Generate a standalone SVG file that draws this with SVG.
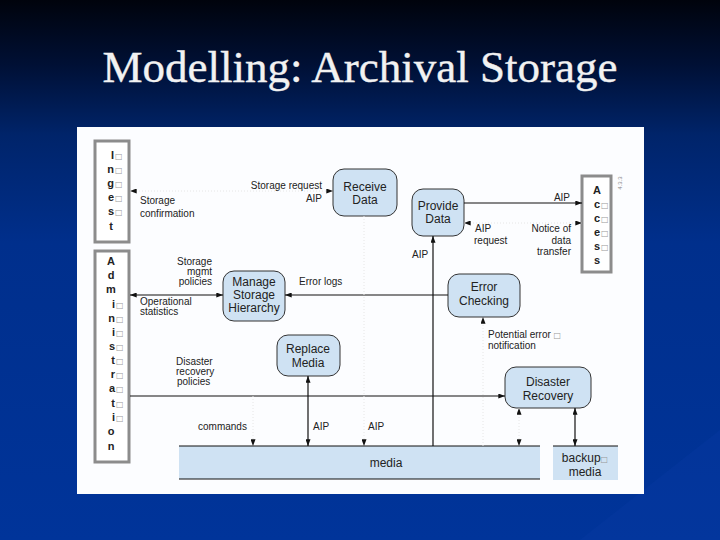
<svg xmlns="http://www.w3.org/2000/svg" width="720" height="540" viewBox="0 0 720 540">
<defs>
<linearGradient id="bg" x1="0" y1="0" x2="0" y2="1">
<stop offset="0" stop-color="#00030c"/>
<stop offset="0.12" stop-color="#001035"/>
<stop offset="0.25" stop-color="#00246a"/>
<stop offset="0.45" stop-color="#002f8c"/>
<stop offset="1" stop-color="#00349a"/>
</linearGradient>
<marker id="ah" viewBox="0 0 8 6" refX="8" refY="3" markerWidth="7" markerHeight="5" markerUnits="userSpaceOnUse" orient="auto-start-reverse">
<path d="M0,0 L8,3 L0,6 Z" fill="#111"/>
</marker>
<style>
.node{fill:#cfe2f3;stroke:#333;stroke-width:1}
.ext{fill:#fff;stroke:#8c8c8c;stroke-width:3}
.nt{font-family:"Liberation Sans",Arial,sans-serif;font-size:12px;fill:#222;text-anchor:middle}
.lt{font-family:"Liberation Sans",Arial,sans-serif;font-size:10px;fill:#222}
.le{text-anchor:end}
.bl{font-family:"Liberation Sans",Arial,sans-serif;font-size:11px;font-weight:bold;fill:#222}
.bx{font-family:"DejaVu Sans",sans-serif;font-size:8px;fill:#999}
.ln{stroke:#111;stroke-width:1.2;fill:none}
.fl{stroke:#e6e6e6;stroke-width:1;fill:none;stroke-dasharray:1 2}
</style>
</defs>
<rect width="720" height="540" fill="url(#bg)"/>
<polygon points="580,540 720,430 720,540" fill="#0a3ca6" opacity="0.3"/>
<text x="360" y="82" text-anchor="middle" font-family="'Liberation Serif','Times New Roman',serif" font-size="45" fill="#f2f2f2" stroke="#f2f2f2" stroke-width="0.4">Modelling: Archival Storage</text>
<rect x="77" y="127" width="567" height="367" fill="#fcfdff"/>

<g id="ingest">
<rect class="ext" x="95" y="141" width="34" height="101"/>
<text class="bl" x="114" y="159" text-anchor="end">I</text><text class="bx" x="115" y="159">□</text>
<text class="bl" x="114" y="173" text-anchor="end">n</text><text class="bx" x="115" y="173">□</text>
<text class="bl" x="114" y="187" text-anchor="end">g</text><text class="bx" x="115" y="187">□</text>
<text class="bl" x="114" y="201" text-anchor="end">e</text><text class="bx" x="115" y="201">□</text>
<text class="bl" x="114" y="215" text-anchor="end">s</text><text class="bx" x="115" y="215">□</text>
<text class="bl" x="111" y="230" text-anchor="middle">t</text>
</g>

<g id="administration">
<rect class="ext" x="95" y="251" width="34" height="211"/>
<text class="bl" x="111" y="265" text-anchor="middle">A</text>
<text class="bl" x="111" y="279" text-anchor="middle">d</text>
<text class="bl" x="111" y="293" text-anchor="middle">m</text>
<text class="bl" x="115" y="308" text-anchor="end">i</text><text class="bx" x="116" y="308">□</text>
<text class="bl" x="115" y="322" text-anchor="end">n</text><text class="bx" x="116" y="322">□</text>
<text class="bl" x="115" y="336" text-anchor="end">i</text><text class="bx" x="116" y="336">□</text>
<text class="bl" x="115" y="350" text-anchor="end">s</text><text class="bx" x="116" y="350">□</text>
<text class="bl" x="115" y="364" text-anchor="end">t</text><text class="bx" x="116" y="364">□</text>
<text class="bl" x="115" y="378" text-anchor="end">r</text><text class="bx" x="116" y="378">□</text>
<text class="bl" x="115" y="392" text-anchor="end">a</text><text class="bx" x="116" y="392">□</text>
<text class="bl" x="115" y="407" text-anchor="end">t</text><text class="bx" x="116" y="407">□</text>
<text class="bl" x="115" y="421" text-anchor="end">i</text><text class="bx" x="116" y="421">□</text>
<text class="bl" x="111" y="435" text-anchor="middle">o</text>
<text class="bl" x="111" y="450" text-anchor="middle">n</text>
</g>

<g id="access">
<rect class="ext" x="582" y="176" width="29" height="96"/>
<text class="bl" x="597" y="194" text-anchor="middle">A</text>
<text class="bl" x="600" y="208" text-anchor="end">c</text><text class="bx" x="601" y="208">□</text>
<text class="bl" x="600" y="222" text-anchor="end">c</text><text class="bx" x="601" y="222">□</text>
<text class="bl" x="600" y="236" text-anchor="end">e</text><text class="bx" x="601" y="236">□</text>
<text class="bl" x="600" y="250" text-anchor="end">s</text><text class="bx" x="601" y="250">□</text>
<text class="bl" x="597" y="264" text-anchor="middle">s</text>
<text x="622" y="183" transform="rotate(-90 622 183)" text-anchor="middle" font-family="'Liberation Sans',sans-serif" font-size="6" fill="#888">4.3.3</text>
</g>

<g id="receive-data">
<rect class="node" x="333" y="169" width="64" height="47" rx="11"/>
<text class="nt" x="365" y="191">Receive</text>
<text class="nt" x="365" y="204">Data</text>
</g>
<g id="provide-data">
<rect class="node" x="412" y="189" width="52" height="47" rx="11"/>
<text class="nt" x="438" y="210">Provide</text>
<text class="nt" x="438" y="223">Data</text>
</g>
<g id="manage-storage-hierarchy">
<rect class="node" x="223" y="271" width="62" height="50" rx="11"/>
<text class="nt" x="254" y="286">Manage</text>
<text class="nt" x="254" y="299">Storage</text>
<text class="nt" x="254" y="312">Hierarchy</text>
</g>
<g id="error-checking">
<rect class="node" x="448" y="274" width="72" height="43" rx="11"/>
<text class="nt" x="484" y="291">Error</text>
<text class="nt" x="484" y="305">Checking</text>
</g>
<g id="replace-media">
<rect class="node" x="277" y="335" width="63" height="41" rx="11"/>
<text class="nt" x="308" y="353">Replace</text>
<text class="nt" x="308" y="367">Media</text>
</g>
<g id="disaster-recovery">
<rect class="node" x="505" y="367" width="86" height="41" rx="11"/>
<text class="nt" x="548" y="386">Disaster</text>
<text class="nt" x="548" y="400">Recovery</text>
</g>
<g id="media">
<rect x="179" y="446" width="361" height="33" fill="#cfe2f3"/>
<line x1="179" y1="446" x2="540" y2="446" stroke="#111" stroke-width="1.2"/>
<line x1="179" y1="479" x2="540" y2="479" stroke="#111" stroke-width="1.2"/>
<text class="nt" x="386" y="467">media</text>
</g>
<g id="backup-media">
<rect x="553" y="446" width="65" height="34" fill="#cfe2f3"/>
<line x1="553" y1="446" x2="618" y2="446" stroke="#111" stroke-width="1.2"/>
<text class="nt" x="585" y="462">backup<tspan class="bx">□</tspan></text>
<text class="nt" x="585" y="476">media</text>
</g>

<g id="connectors">
<line class="fl" x1="130" y1="191" x2="333" y2="191" marker-start="url(#ah)" marker-end="url(#ah)"/>
<line class="ln" x1="130" y1="295" x2="223" y2="295" marker-start="url(#ah)" marker-end="url(#ah)"/>
<line class="ln" x1="448" y1="295" x2="285" y2="295" marker-end="url(#ah)"/>
<line class="ln" x1="433" y1="446" x2="433" y2="236" marker-end="url(#ah)"/>
<line class="ln" x1="464" y1="203" x2="582" y2="203" marker-end="url(#ah)"/>
<line class="fl" x1="464" y1="223" x2="582" y2="223" marker-start="url(#ah)" marker-end="url(#ah)"/>
<line class="ln" x1="130" y1="396" x2="505" y2="396" marker-end="url(#ah)"/>
<line class="ln" x1="308" y1="376" x2="308" y2="446" marker-start="url(#ah)" marker-end="url(#ah)"/>
<line class="fl" x1="253" y1="396" x2="253" y2="446" marker-end="url(#ah)"/>
<line class="fl" x1="364" y1="216" x2="364" y2="446" marker-end="url(#ah)"/>
<line class="fl" x1="519" y1="408" x2="519" y2="446" marker-start="url(#ah)" marker-end="url(#ah)"/>
<line class="ln" x1="575" y1="408" x2="575" y2="446" marker-start="url(#ah)" marker-end="url(#ah)"/>
<line class="fl" x1="483" y1="446" x2="483" y2="317" marker-end="url(#ah)"/>
</g>

<g id="labels">
<text class="lt le" x="322" y="189">Storage request</text>
<text class="lt le" x="322" y="202">AIP</text>
<text class="lt" x="140" y="204">Storage</text>
<text class="lt" x="140" y="217">confirmation</text>
<text class="lt le" x="212" y="265">Storage</text>
<text class="lt le" x="212" y="275">mgmt</text>
<text class="lt le" x="212" y="285">policies</text>
<text class="lt" x="140" y="305">Operational</text>
<text class="lt" x="140" y="315">statistics</text>
<text class="lt" x="299" y="285">Error logs</text>
<text class="lt" x="412" y="258">AIP</text>
<text class="lt le" x="570" y="201">AIP</text>
<text class="lt" x="475" y="232">AIP</text>
<text class="lt" x="474" y="244">request</text>
<text class="lt le" x="571" y="232">Notice of</text>
<text class="lt le" x="571" y="244">data</text>
<text class="lt le" x="571" y="255">transfer</text>
<text class="lt" x="488" y="338">Potential error <tspan class="bx">□</tspan></text>
<text class="lt" x="488" y="349">notification</text>
<text class="lt" x="176" y="365">Disaster</text>
<text class="lt" x="176" y="375">recovery</text>
<text class="lt" x="177" y="385">policies</text>
<text class="lt" x="198" y="430">commands</text>
<text class="lt" x="313" y="430">AIP</text>
<text class="lt" x="368" y="430">AIP</text>
</g>
</svg>
